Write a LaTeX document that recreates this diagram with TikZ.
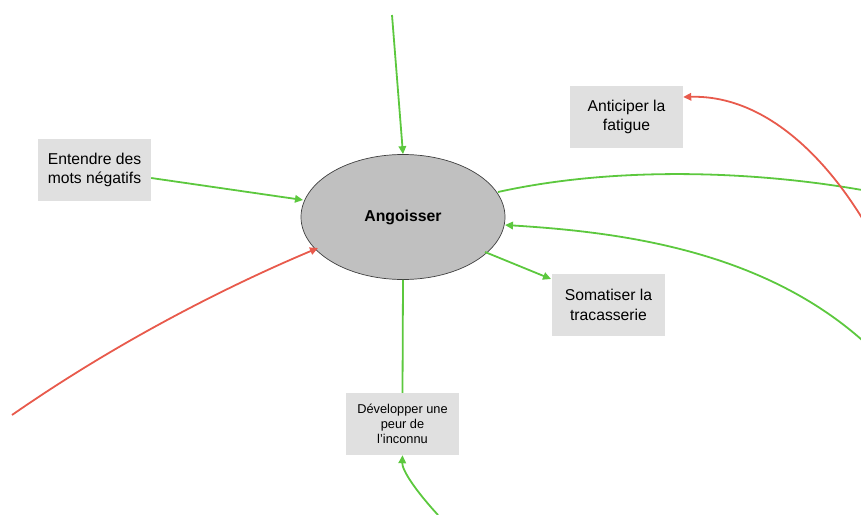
\documentclass[tikz,border=0pt]{standalone}
\usepackage{fontspec}
\setmainfont{Liberation Sans}
\usetikzlibrary{arrows.meta,shapes.geometric}
\definecolor{linkgreen}{HTML}{5CC83E}
\definecolor{linkred}{HTML}{E85A4C}
\definecolor{boxgray}{HTML}{E0E0E0}
\definecolor{corefill}{HTML}{C0C0C0}
\tikzset{
  x=1pt, y=-1pt,
  box/.style={fill=boxgray, minimum width=113pt, minimum height=62pt, align=center, inner sep=0pt, font=\fontsize{15.7}{19.5}\selectfont},
  smallbox/.style={box, font=\fontsize{12.8}{14.8}\selectfont},
  core/.style={ellipse, draw=black!75, line width=0.7pt, fill=corefill, minimum width=204pt, minimum height=125pt, inner sep=0pt, font=\bfseries\fontsize{15.8}{18}\selectfont},
  poslink/.style={draw=linkgreen, line width=1.8pt, -{Triangle[length=8pt,width=7.5pt]}},
  neglink/.style={draw=linkred, line width=1.8pt, -{Triangle[length=8pt,width=7.5pt]}},
  posline/.style={draw=linkgreen, line width=1.8pt},
}
\begin{document}
\begin{tikzpicture}
\useasboundingbox (0,0) rectangle (861,514);

\node[core] (ang) at (403,217) {Angoisser};
\node[box] (ent) at (94.5,170) {Entendre des\\mots négatifs};
\node[box] (ant) at (626.5,117) {Anticiper la\\fatigue};
\node[box] (som) at (608.5,305) {Somatiser la\\tracasserie};
\node[smallbox] (dev) at (402.5,424) {Développer une\\peur de\\l'inconnu};

% loose ends leaving the frame
\coordinate (topin) at (392,15);
\coordinate (leftin) at (12,415);
\coordinate (rightout) at (862,190);
\coordinate (rightred) at (862,218);
\coordinate (rightin) at (862,340);
\coordinate (bottomin) at (438,515);

% incoming links
\draw[poslink] (topin) -- (ang.north);
\draw[poslink] (ent.east |- 0,178) -- (303,200);
\draw[neglink] (leftin) .. controls (120,340) and (230,285) .. (318,248);
\draw[poslink] (rightin) .. controls (760,250) and (620,232) .. (505,225);

% outgoing links
\draw[posline] (498,192) .. controls (620,165) and (760,172) .. (rightout);
\draw[poslink] (485,252) -- (551,279);
\draw[posline] (ang.south) -- (dev.north);

% external curves ending on boxes
\draw[neglink] (rightred) .. controls (820,150) and (760,95) .. (ant.east |- 0,97);
\draw[poslink] (bottomin) .. controls (415,490) and (402,470) .. (dev.south);
\end{tikzpicture}
\end{document}
